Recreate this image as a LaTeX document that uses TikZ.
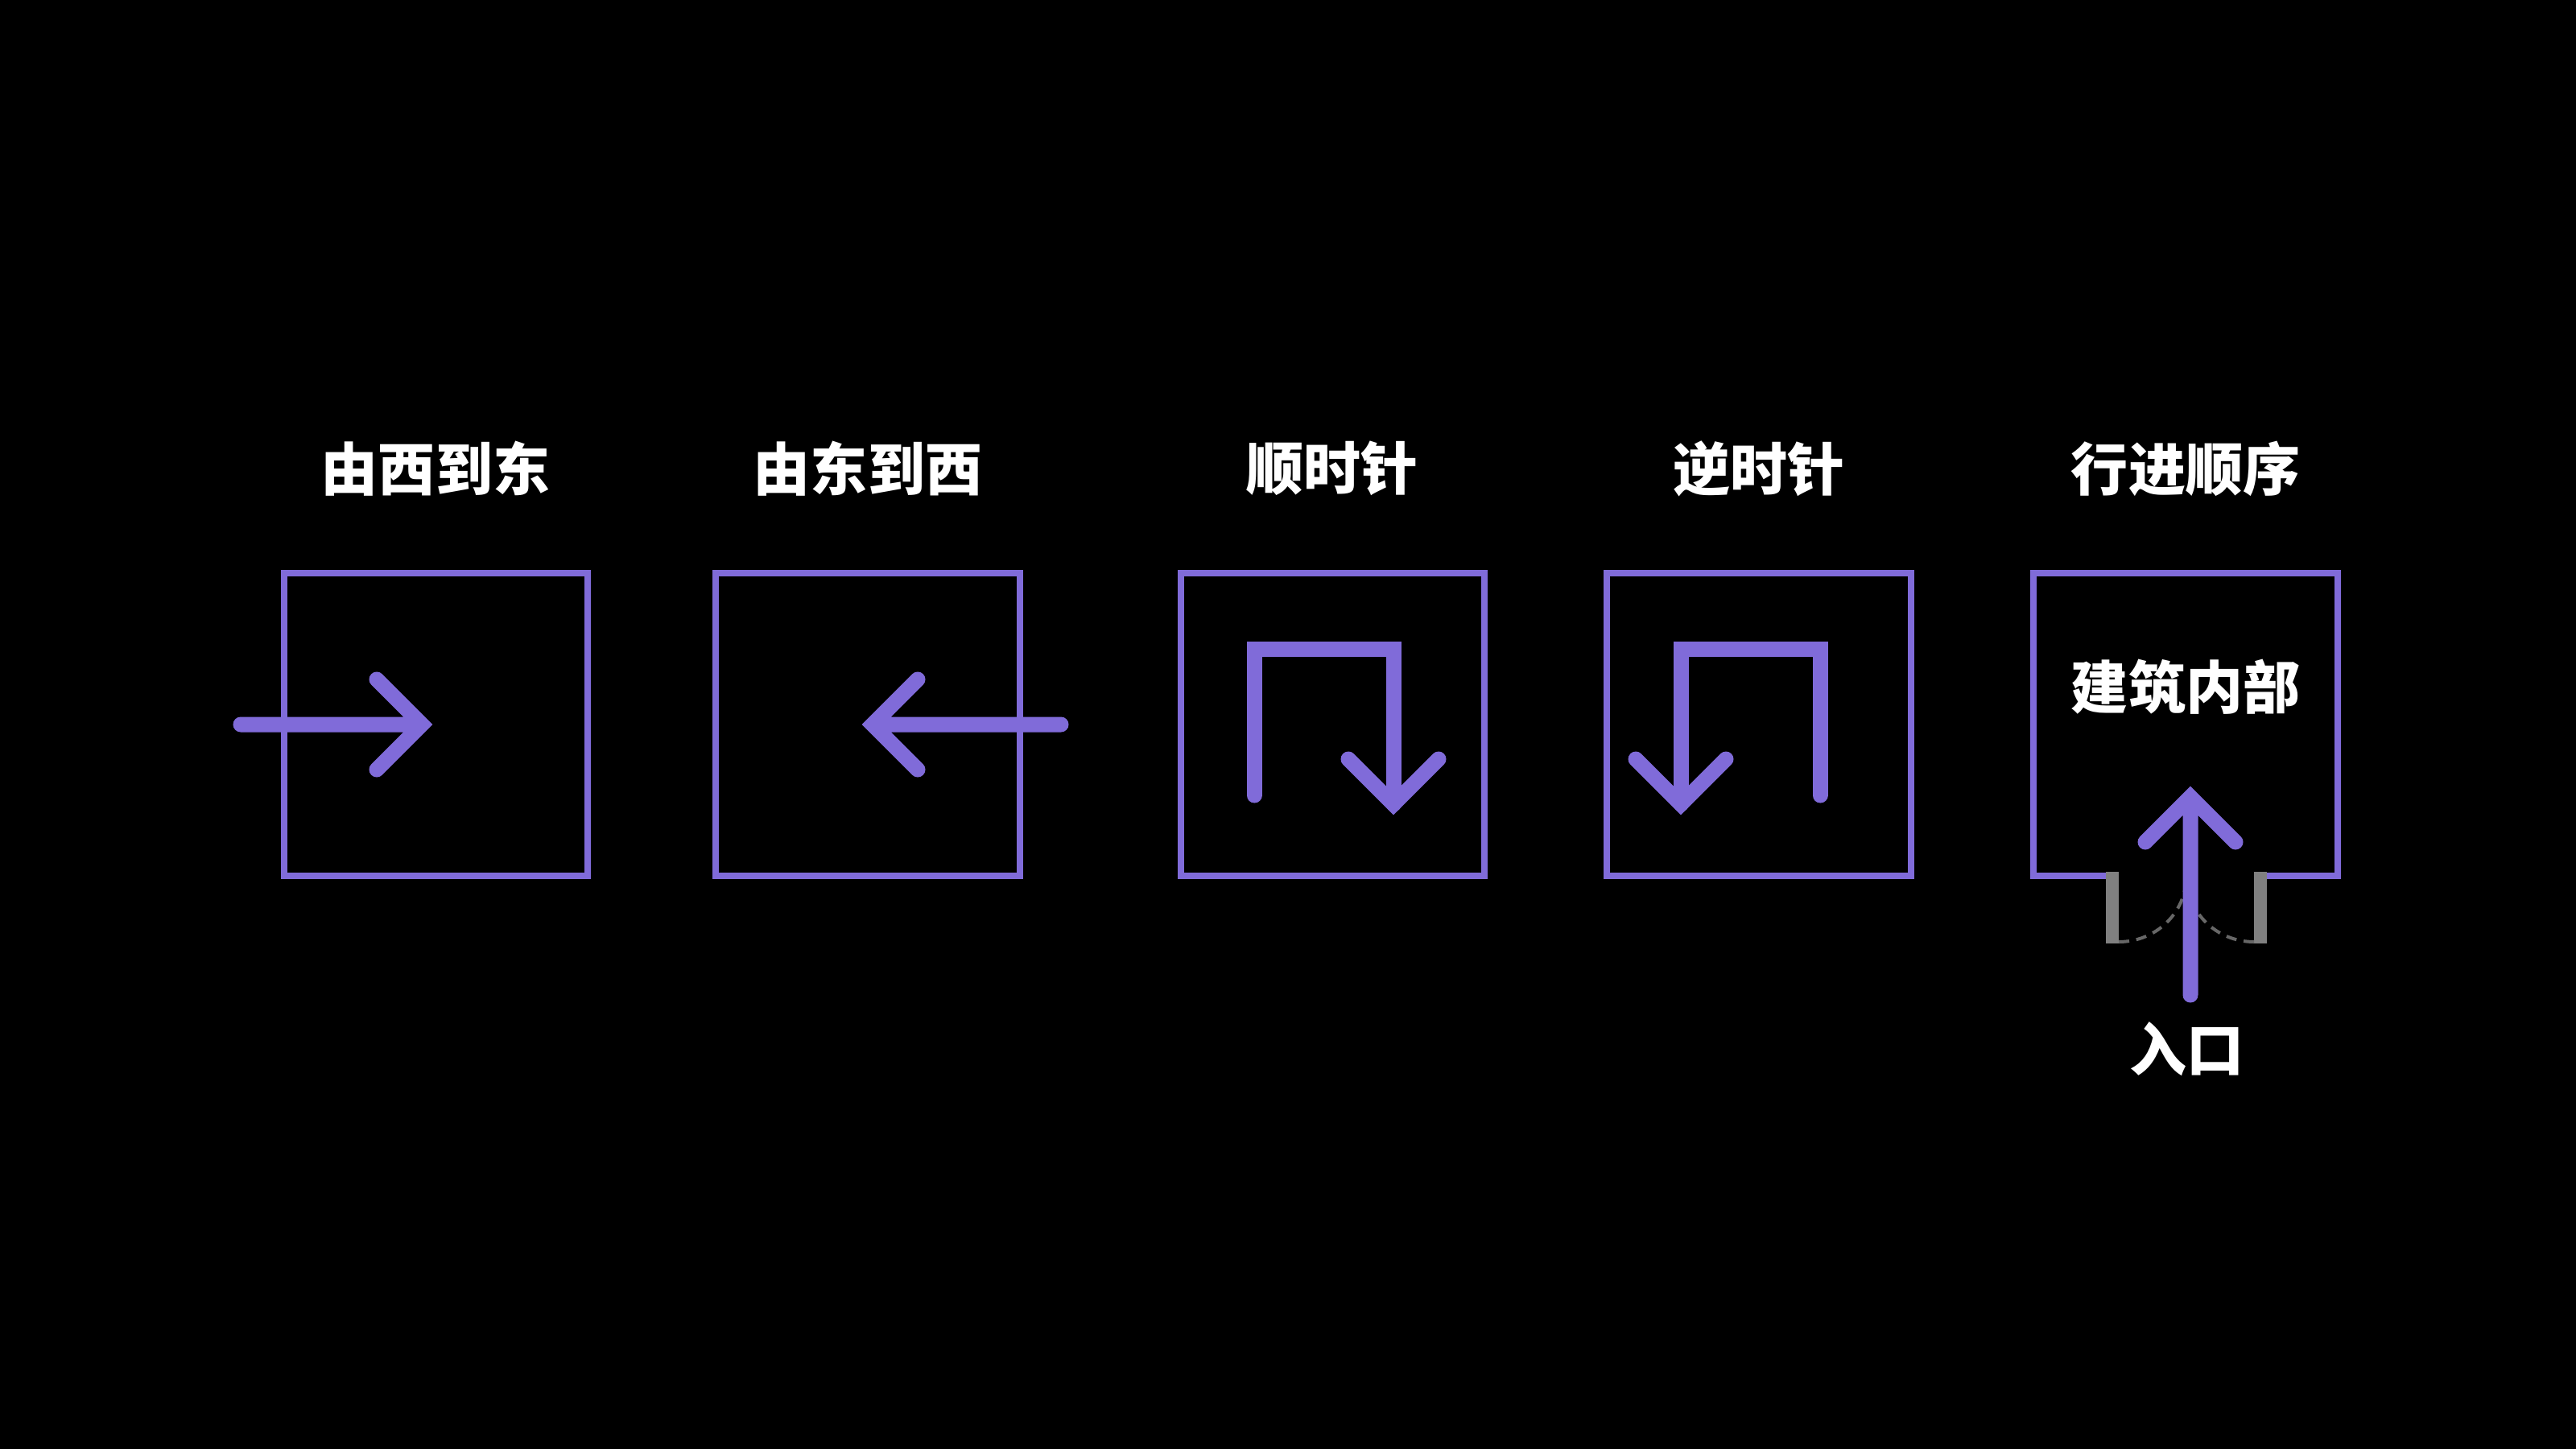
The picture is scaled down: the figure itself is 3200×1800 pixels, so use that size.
\documentclass[tikz,border=0pt]{standalone}
\usepackage{fontspec}
\newfontfamily\cjk{Noto Sans CJK SC}
\definecolor{vio}{RGB}{128,107,217}
\definecolor{jamb}{RGB}{128,128,128}
\tikzset{
  wall/.style={draw=vio, line width=0.08cm, line join=miter},
  boxnode/.style={wall, minimum width=3.77cm, minimum height=3.76cm, inner sep=0pt, outer sep=0pt},
  route/.style={draw=vio, line width=0.19cm, line cap=round, line join=miter, miter limit=10},
  lbl/.style={text=white, inner sep=0pt, font=\cjk\bfseries\fontsize{20.2pt}{24pt}\selectfont},
  swing/.style={draw=jamb!120, line width=0.04cm, dash pattern=on 0.13cm off 0.09cm},
}
\begin{document}
\begin{tikzpicture}[x=0.01cm, y=-0.01cm]
\useasboundingbox (0,0) rectangle (3200,1800);
\fill[black] (0,0) rectangle (3200,1800);

% titles
\node[lbl] (t1) at (541,582) {由西到东};
\node[lbl] (t2) at (1078,582) {由东到西};
\node[lbl] (t3) at (1655,582) {顺时针};
\node[lbl] (t4) at (2185,582) {逆时针};
\node[lbl] (t5) at (2715,582) {行进顺序};

% boxes 1-4
\node[boxnode] (b1) at (541.5,900) {};
\node[boxnode] (b2) at (1078,900) {};
\node[boxnode] (b3) at (1655.5,900) {};
\node[boxnode] (b4) at (2185,900) {};

% box 5 with door opening
\draw[wall] (2617,1088) -- (2526,1088) -- (2526,712) -- (2904,712) -- (2904,1088) -- (2816,1088);
\fill[jamb] (2616,1083) rectangle (2632,1172);
\fill[jamb] (2800,1083) rectangle (2816,1172);
\coordinate (dl) at (2632,1170);
\coordinate (dr) at (2800,1170);
\coordinate (dm) at (2716,1088);
\draw[swing] (dl) .. controls (2678,1170) and (2716,1134) .. (dm);
\draw[swing] (dr) .. controls (2754,1170) and (2716,1134) .. (dm);

% arrow 1: west to east
\coordinate (a1s) at (299,900);
\coordinate (a1t) at (524,900);
\draw[route] (a1s) -- (a1t) (468,844) -- (a1t) -- (468,956);

% arrow 2: east to west
\coordinate (a2s) at (1318,900);
\coordinate (a2t) at (1084,900);
\draw[route] (a2s) -- (a2t) (1140,844) -- (a2t) -- (1140,956);

% arrow 3: clockwise
\coordinate (a3s) at (1558,988);
\coordinate (a3t) at (1731,999);
\draw[route] (a3s) -- (1558,806) -- (1731,806) -- (a3t);
\draw[route] (1675,943) -- (a3t) -- (1787,943);

% arrow 4: counter-clockwise
\coordinate (a4s) at (2261,988);
\coordinate (a4t) at (2088,999);
\draw[route] (a4s) -- (2261,806) -- (2088,806) -- (a4t);
\draw[route] (2032,943) -- (a4t) -- (2144,943);

% arrow 5: entrance
\coordinate (a5s) at (2721,1236);
\coordinate (a5t) at (2721,990);
\draw[route] (a5s) -- (a5t) (2665,1046) -- (a5t) -- (2777,1046);

\node[lbl] (inside) at (2715,853) {建筑内部};
\node[lbl] (entry) at (2716,1303) {入口};
\end{tikzpicture}
\end{document}
